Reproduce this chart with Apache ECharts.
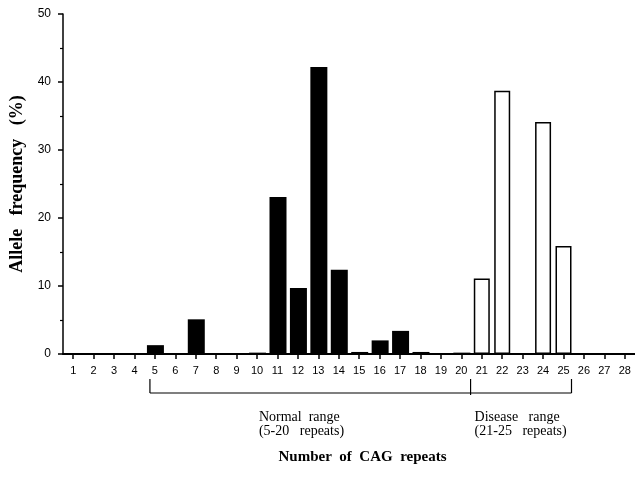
<!DOCTYPE html>
<html>
<head>
<meta charset="utf-8">
<script src="https://cdn.jsdelivr.net/npm/echarts@6/dist/echarts.min.js"></script>
<style>
html,body{margin:0;padding:0;background:#fff;}
#chart{width:635px;height:483px;}
</style>
</head>
<body>
<div id="chart"></div>
<script>
const categories = ['1','2','3','4','5','6','7','8','9','10','11','12','13','14','15','16','17','18','19','20','21','22','23','24','25','26','27','28'];
const normalValues = [0,0,0,0,1.3,0,5.1,0,0,0.2,23.1,9.7,42.2,12.4,0.3,2.0,3.4,0.3,0,0.2,null,null,null,null,null,null,null,null];
const diseaseValues = [null,null,null,null,null,null,null,null,null,null,null,null,null,null,null,null,null,null,null,null,11.1,38.7,0,34.1,15.9,0,0,0];
const yTicks = [0,10,20,30,40,50];
const rangeLabels = ['Normal  range', '(5-20   repeats)', 'Disease   range', '(21-25   repeats)'];

const chart = echarts.init(document.getElementById('chart'));
const serif = '"Liberation Serif", "Times New Roman", serif';
const sans = '"Liberation Sans", Arial, sans-serif';

chart.setOption({
  animation: false,
  backgroundColor: '#fff',
  grid: { left: 60, right: 0, top: 14, bottom: 129, containLabel: false },
  xAxis: {
    type: 'category',
    data: categories,
    axisLine: { show: true, lineStyle: { color: '#000', width: 2 } },
    axisTick: { show: true, alignWithLabel: true, length: 5, lineStyle: { color: '#000', width: 1.5 } },
    axisLabel: { color: '#000', fontFamily: sans, fontSize: 11, margin: 11, interval: 0 },
    name: 'Number  of  CAG  repeats',
    nameLocation: 'middle',
    nameGap: 96,
    nameTextStyle: { color: '#000', fontFamily: serif, fontWeight: 'bold', fontSize: 15, padding: [0, 0, 0, 27] }
  },
  yAxis: {
    type: 'value',
    min: yTicks[0],
    max: yTicks[yTicks.length - 1],
    interval: 10,
    axisLine: { show: true, lineStyle: { color: '#000', width: 1.5 } },
    axisTick: { show: true, length: 5, lineStyle: { color: '#000', width: 1.5 } },
    minorTick: { show: true, splitNumber: 2, length: 3, lineStyle: { color: '#000', width: 1.2 } },
    splitLine: { show: false },
    axisLabel: { color: '#000', fontFamily: sans, fontSize: 12, margin: 12 },
    name: 'Allele   frequency   (%)',
    nameLocation: 'middle',
    nameGap: 37,
    nameTextStyle: { color: '#000', fontFamily: serif, fontWeight: 'bold', fontSize: 18 }
  },
  series: [
    {
      name: 'Normal',
      type: 'bar',
      data: normalValues,
      barWidth: 17,
      barGap: '-100%',
      itemStyle: { color: '#000' }
    },
    {
      name: 'Disease',
      type: 'bar',
      data: diseaseValues,
      barWidth: 16,
      barGap: '-100%',
      itemStyle: { color: '#fff', borderColor: '#000', borderWidth: 1.5 }
    }
  ]
});

function drawBrackets() {
  const px = (c) => chart.convertToPixel({ xAxisIndex: 0 }, c);
  const y0 = chart.convertToPixel({ yAxisIndex: 0 }, 0);
  const xLeft = px('5') - 5;
  const xMid = (px('20') + px('21')) / 2 - 1;
  const xRight = px('25') + 8;
  const yTop = y0 + 25;
  const yH = y0 + 39;
  const ls = { stroke: '#000', lineWidth: 1.2 };
  const f = '14px ' + serif;
  chart.setOption({
    graphic: [
      { type: 'line', shape: { x1: xLeft, y1: yTop, x2: xLeft, y2: yH }, style: ls, silent: true },
      { type: 'line', shape: { x1: xMid, y1: yTop, x2: xMid, y2: yH + 2 }, style: ls, silent: true },
      { type: 'line', shape: { x1: xRight, y1: yTop, x2: xRight, y2: yH }, style: ls, silent: true },
      { type: 'line', shape: { x1: xLeft, y1: yH, x2: xRight, y2: yH }, style: ls, silent: true },
      { type: 'text', x: xLeft + 109, y: y0 + 63, style: { text: rangeLabels[0], fill: '#000', font: f, textVerticalAlign: 'middle' }, silent: true },
      { type: 'text', x: xLeft + 109, y: y0 + 77, style: { text: rangeLabels[1], fill: '#000', font: f, textVerticalAlign: 'middle' }, silent: true },
      { type: 'text', x: xMid + 4, y: y0 + 63, style: { text: rangeLabels[2], fill: '#000', font: f, textVerticalAlign: 'middle' }, silent: true },
      { type: 'text', x: xMid + 4, y: y0 + 77, style: { text: rangeLabels[3], fill: '#000', font: f, textVerticalAlign: 'middle' }, silent: true }
    ]
  });
}
drawBrackets();
</script>
</body>
</html>
